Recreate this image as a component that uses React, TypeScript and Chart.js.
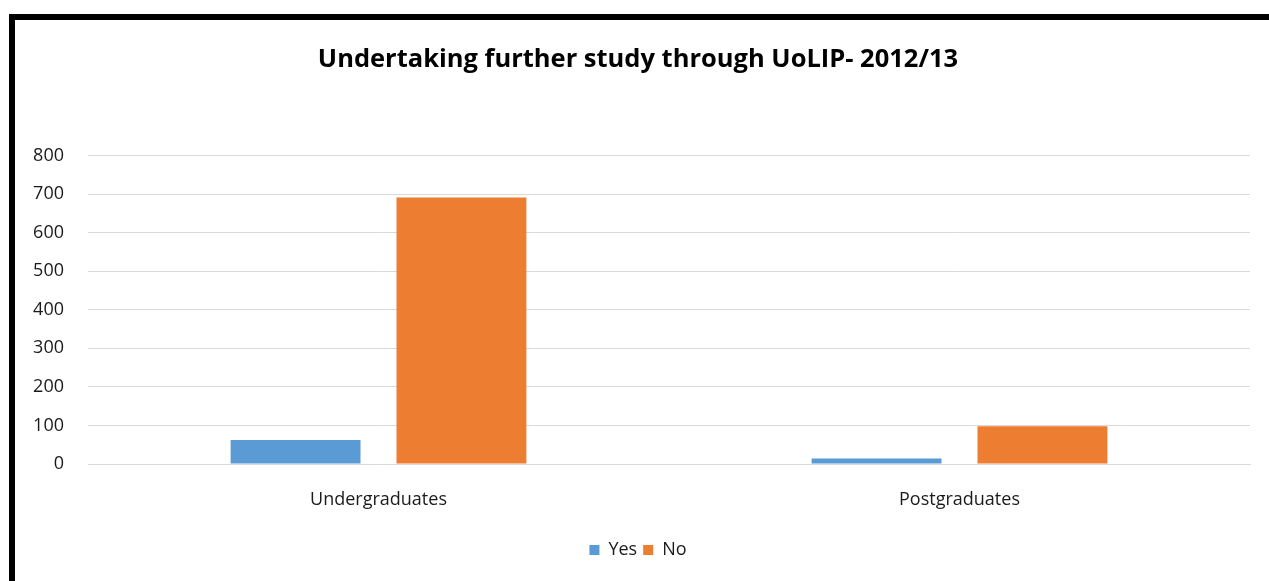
import React, { useEffect, useRef } from "react";
import { Chart, registerables } from "chart.js";

Chart.register(...registerables);

const categories = ["Undergraduates", "Postgraduates"];
const yesValues = [62, 14];
const noValues = [691, 98];
const seriesNames = ["Yes", "No"];
const chartTitle = "Undertaking further study through UoLIP- 2012/13";

const FONT = "'Open Sans', 'Liberation Sans', sans-serif";

export default function App() {
  const ref = useRef<HTMLCanvasElement | null>(null);

  useEffect(() => {
    if (!ref.current) return;
    const chart = new Chart(ref.current, {
      type: "bar",
      data: {
        labels: categories,
        datasets: [
          {
            label: seriesNames[0],
            data: yesValues,
            backgroundColor: "#5B9BD5",
            borderWidth: 0,
            barPercentage: 0.783,
            categoryPercentage: 0.571,
          },
          {
            label: seriesNames[1],
            data: noValues,
            backgroundColor: "#ED7D31",
            borderWidth: 0,
            barPercentage: 0.783,
            categoryPercentage: 0.571,
          },
        ],
      },
      options: {
        responsive: false,
        animation: false,
        maintainAspectRatio: false,
        layout: { padding: { left: 26, right: 19, top: 0, bottom: 12 } },
        plugins: {
          title: {
            display: true,
            text: chartTitle,
            color: "#000",
            font: { family: FONT, size: 25.5, weight: "bold" },
            padding: { top: 44, bottom: 81 },
          },
          legend: {
            position: "bottom",
            labels: {
              boxWidth: 10,
              boxHeight: 10,
              padding: 6,
              color: "#1a1a1a",
              font: { family: FONT, size: 18 },
            },
          },
          tooltip: { enabled: false },
        },
        scales: {
          x: {
            grid: { display: false, drawTicks: false },
            border: { display: true, color: "#d9d9d9", width: 1 },
            ticks: {
              color: "#1a1a1a",
              font: { family: FONT, size: 18 },
              padding: 25,
            },
            afterFit: (s: any) => {
              s.height = 71;
            },
          },
          y: {
            min: 0,
            max: 800,
            ticks: {
              stepSize: 100,
              color: "#1a1a1a",
              font: { family: FONT, size: 18 },
              padding: 24,
            },
            grid: { color: "#d9d9d9", lineWidth: 1, drawTicks: false },
            border: { display: false },
            afterFit: (s: any) => {
              s.width = 62;
            },
          },
        },
      },
    });
    return () => chart.destroy();
  }, []);

  return (
    <div
      style={{
        position: "fixed",
        left: 0,
        top: 0,
        width: 1269,
        height: 581,
        overflow: "hidden",
        background: "#fff",
      }}
    >
      <canvas ref={ref} width={1269} height={581} style={{ position: "absolute", left: 0, top: 0 }} />
      <div
        style={{
          position: "absolute",
          left: 9,
          top: 14,
          width: 1300,
          height: 600,
          borderLeft: "6px solid #000",
          borderTop: "6px solid #000",
          boxSizing: "border-box",
          pointerEvents: "none",
        }}
      />
    </div>
  );
}
